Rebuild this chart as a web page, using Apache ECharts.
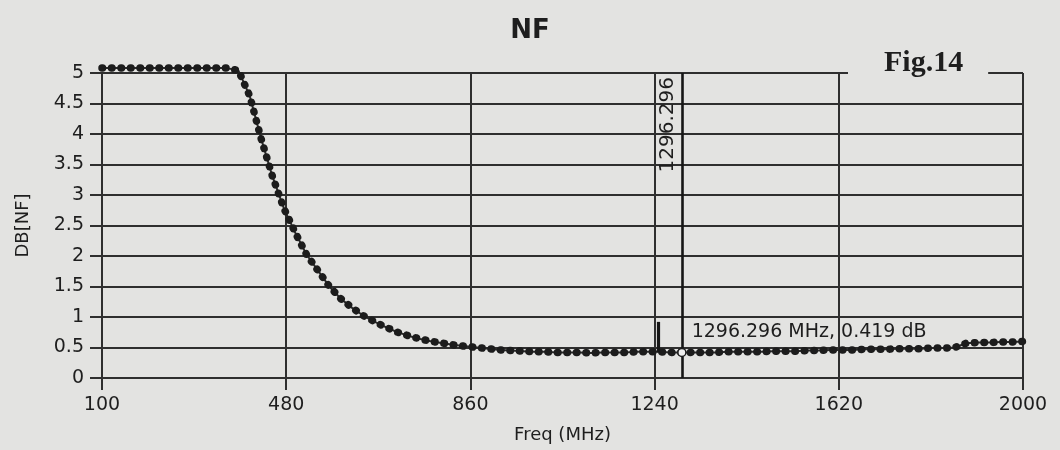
<!DOCTYPE html>
<html><head><meta charset="utf-8">
<script src="https://cdn.jsdelivr.net/npm/echarts@6/dist/echarts.min.js"></script>
<style>html,body{margin:0;padding:0;background:#e3e3e1}#c{width:1060px;height:450px}</style>
</head><body><div id="c"></div>
<script>
const freqMHz = [100, 123.457, 146.914, 170.370, 193.827, 217.284, 240.741, 264.198, 287.654, 311.111,
  334.568, 358.025, 381.481, 404.938, 428.395, 451.852, 475.309, 498.765, 522.222, 545.679,
  569.136, 592.593, 616.049, 639.506, 662.963, 686.420, 709.877, 733.333, 756.790, 780.247,
  803.704, 827.160, 850.617, 874.074, 897.531, 920.988, 944.444, 967.901, 991.358, 1014.815,
  1038.272, 1061.728, 1085.185, 1108.642, 1132.099, 1155.556, 1179.012, 1202.469, 1225.926, 1249.383,
  1272.840, 1296.296, 1319.753, 1343.210, 1366.667, 1390.123, 1413.580, 1437.037, 1460.494, 1483.951,
  1507.407, 1530.864, 1554.321, 1577.778, 1601.235, 1624.691, 1648.148, 1671.605, 1695.062, 1718.519,
  1741.975, 1765.432, 1788.889, 1812.346, 1835.802, 1859.259, 1882.716, 1906.173, 1929.630, 1953.086,
  1976.543, 2000];
const nfDb = [5.08, 5.08, 5.08, 5.08, 5.08, 5.08, 5.08, 5.08, 5.08, 5.08,
  5.08, 5.08, 5.04, 4.62, 3.92, 3.3, 2.78, 2.38, 2.02, 1.76,
  1.5, 1.3, 1.15, 1.02, 0.92, 0.83, 0.75, 0.69, 0.64, 0.6,
  0.57, 0.54, 0.52, 0.5, 0.48, 0.46, 0.45, 0.44, 0.43, 0.43,
  0.42, 0.42, 0.42, 0.41, 0.42, 0.42, 0.42, 0.43, 0.43, 0.43,
  0.42, 0.419, 0.42, 0.42, 0.42, 0.43, 0.43, 0.43, 0.43, 0.44,
  0.44, 0.44, 0.45, 0.45, 0.46, 0.46, 0.46, 0.47, 0.47, 0.47,
  0.48, 0.48, 0.48, 0.49, 0.49, 0.5, 0.57, 0.58, 0.58, 0.59,
  0.59, 0.6];
const xTicks = [100, 480, 860, 1240, 1620, 2000];
const yMin = 0, yMax = 5, yStep = 0.5;
const markerFreq = 1296.296;
const markerDb = 0.419;
const refMarkFreq = 1247;
const refMarkDb = [0.42, 0.92];

const points = freqMHz.map((f, i) => [f, nfDb[i]]);
const ink = '#1e1e1e';
const gridInk = '#2f2f2f';
const font = 'DejaVu Sans';

const chart = echarts.init(document.getElementById('c'), null, {renderer: 'canvas'});
chart.setOption({
  animation: false,
  backgroundColor: '#e3e3e1',
  title: [
    {text: 'NF', left: 'center', top: 13,
     textStyle: {fontFamily: font, fontWeight: 'bold', fontSize: 26, color: ink}},
    {text: 'Fig.14', left: 848, top: 47, padding: [0, 25, 0, 36], backgroundColor: '#e3e3e1',
     textStyle: {fontFamily: 'Liberation Serif', fontWeight: 'bold', fontSize: 30, color: ink, lineHeight: 32}}
  ],
  grid: {left: 102, right: 37, top: 73, bottom: 72},
  xAxis: {
    type: 'value', min: xTicks[0], max: xTicks[xTicks.length - 1],
    name: 'Freq (MHz)', nameLocation: 'middle', nameGap: 48,
    nameTextStyle: {fontFamily: font, fontSize: 18, color: ink},
    axisLine: {show: true, onZero: false, lineStyle: {color: gridInk, width: 2}},
    axisTick: {show: true, length: 12, customValues: xTicks, lineStyle: {color: gridInk, width: 2}},
    axisLabel: {customValues: xTicks, margin: 18, fontFamily: font, fontSize: 19, color: ink,
                formatter: v => String(v)},
    splitLine: {show: true, lineStyle: {color: gridInk, width: 2}}
  },
  yAxis: {
    type: 'value', min: yMin, max: yMax, interval: yStep,
    name: 'DB[NF]', nameLocation: 'middle', nameGap: 70,
    nameTextStyle: {fontFamily: font, fontSize: 18, color: ink},
    axisLine: {show: true, lineStyle: {color: gridInk, width: 2}},
    axisTick: {show: true, length: 12, lineStyle: {color: gridInk, width: 2}},
    axisLabel: {margin: 18, fontFamily: font, fontSize: 19, color: ink, formatter: v => String(v)},
    splitLine: {show: true, lineStyle: {color: gridInk, width: 2}}
  },
  series: [
    {type: 'line', data: points, showSymbol: false, clip: false, z: 3,
     lineStyle: {color: '#2a2a2a', width: 2}},
    {type: 'line', data: points, showSymbol: false, clip: false, z: 4,
     lineStyle: {color: '#1c1c1c', width: 7.5, type: [0.5, 9], cap: 'round'},
     markLine: {
       symbol: 'none', silent: true, animation: false,
       data: [
         {xAxis: markerFreq,
          lineStyle: {color: '#161616', width: 2.6, type: 'solid'},
          label: {show: true, position: 'insideEndTop', formatter: String(markerFreq),
                  fontFamily: font, fontSize: 20, color: ink, distance: 4}},
         [{coord: [refMarkFreq, refMarkDb[0]], lineStyle: {color: '#161616', width: 3.2, type: 'solid'}, label: {show: false}},
          {coord: [refMarkFreq, refMarkDb[1]]}]
       ]
     }},
    {type: 'scatter', data: [[markerFreq, markerDb]], symbol: 'circle', symbolSize: 8, z: 6,
     itemStyle: {color: '#efefef', borderColor: '#1e1e1e', borderWidth: 1.5, opacity: 1},
     label: {show: true, position: 'right', offset: [0, -20],
             formatter: markerFreq + ' MHz, ' + markerDb + ' dB',
             fontFamily: font, fontSize: 19, color: ink}}
  ]
});
</script>
</body></html>
